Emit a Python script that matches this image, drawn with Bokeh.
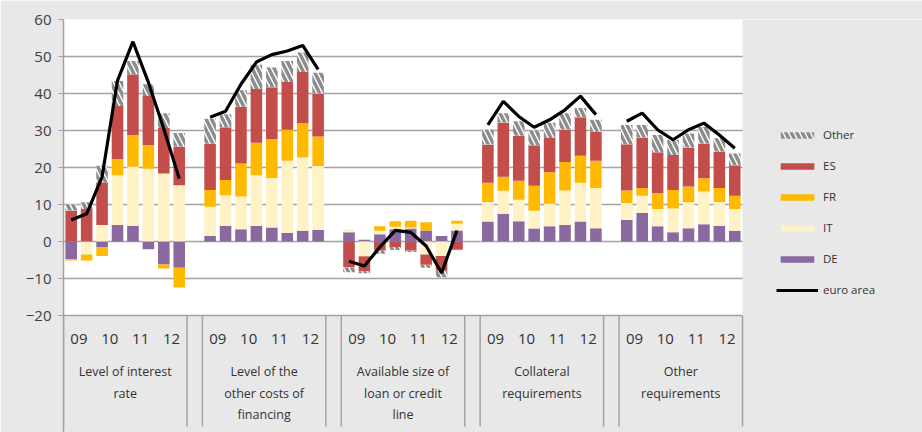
import numpy as np
from bokeh.plotting import figure
from bokeh.models import (Range1d, FixedTicker, Legend, LegendItem, BoxAnnotation,
                          ColumnDataSource)
from bokeh.core.properties import value
from bokeh.embed import file_html
from bokeh.resources import INLINE

# ---------------- data ----------------
group_labels = [
    ["Level of interest", "rate"],
    ["Level of the", "other costs of", "financing"],
    ["Available size of", "loan or credit", "line"],
    ["Collateral", "requirements"],
    ["Other", "requirements"],
]
years = ["09", "10", "11", "12"]
periods_per_year = 2

DE = [-4.8, 0.0, -1.5, 4.5, 4.3, -2.1, -6.2, -7.1,
      1.5, 4.3, 3.3, 4.2, 3.8, 2.3, 2.9, 3.1,
      2.5, 0.5, 2.0, 3.3, 3.5, 3.0, 1.5, 3.0,
      5.4, 7.5, 5.5, 3.5, 4.1, 4.5, 5.4, 3.6,
      5.8, 7.7, 4.1, 2.5, 3.6, 4.7, 4.3, 2.9]
IT = [0.0, -3.5, 4.5, 13.4, 15.9, 19.7, 18.4, 15.2,
      7.9, 8.2, 8.9, 13.7, 13.4, 19.5, 19.8, 17.3,
      0.8, -4.0, 0.9, 0.7, 0.3, -3.5, -3.9, 1.8,
      5.3, 6.2, 5.8, 4.8, 6.1, 9.3, 10.5, 10.9,
      4.6, 4.7, 4.7, 6.4, 7.0, 8.8, 6.4, 5.9]
FR = [-0.3, -1.6, -2.4, 4.4, 8.6, 6.4, -1.1, -5.3,
      4.5, 4.1, 8.9, 8.8, 10.5, 8.4, 9.3, 8.0,
      0.0, 0.0, 1.2, 1.5, 1.8, 2.2, 0.0, 0.8,
      5.2, 3.8, 5.1, 6.8, 8.5, 7.7, 7.3, 7.3,
      3.4, 2.1, 4.3, 5.0, 4.3, 3.6, 3.8, 3.6]
ES = [8.4, 8.8, 11.5, 14.3, 16.4, 13.2, 12.3, 10.5,
      12.5, 14.3, 15.3, 14.5, 14.0, 12.9, 13.8, 11.6,
      -7.0, -4.0, -2.5, -1.5, -2.5, -2.8, -4.0, -2.2,
      10.3, 14.7, 12.2, 10.9, 9.3, 8.8, 10.4, 7.9,
      12.5, 13.6, 11.0, 9.5, 10.5, 9.4, 9.8, 8.2]
Other = [1.7, 1.8, 4.5, 6.8, 3.6, 3.2, 4.0, 3.6,
         6.8, 3.5, 4.5, 6.6, 5.3, 5.7, 5.3, 5.6,
         -1.3, -0.6, -0.8, -0.8, -0.3, -0.8, -1.8, 0.0,
         4.1, 2.5, 3.9, 4.1, 4.1, 4.4, 2.5, 3.2,
         5.2, 3.4, 4.7, 4.1, 3.8, 4.5, 3.6, 3.2]
euro_area = [5.8, 7.5, 17.5, 43.5, 54.0, 43.0, 30.5, 17.0,
             33.6, 35.2, 42.5, 48.5, 50.5, 51.5, 53.0, 46.5,
             -5.3, -6.6, -1.5, 3.0, 2.5, -1.2, -8.5, 3.0,
             31.5, 37.9, 33.8, 30.9, 32.9, 35.6, 39.3, 34.3,
             32.5, 34.7, 30.2, 27.5, 30.2, 32.0, 28.8, 25.2]

series_names = ["DE", "IT", "FR", "ES", "Other"]
series_vals = [DE, IT, FR, ES, Other]
colors = {"DE": "#8A68A0", "IT": "#FFF2C6", "FR": "#FFBA00", "ES": "#C24D4B", "Other": "white"}

# ---------------- layout helpers ----------------
n_groups = len(group_labels)
per_group = len(years) * periods_per_year
slots_per_group = per_group + 1          # one empty slot between groups
n = n_groups * per_group
idx = np.arange(n)
g_idx = idx // per_group
b_idx = idx % per_group
xpos = g_idx * slots_per_group + b_idx + 0.5
x_max = n_groups * slots_per_group - 1

W, H = 922, 432
LEFT, TOP, PLOT_RIGHT = 63, 19, 742
X_END = x_max * (W - LEFT) / (PLOT_RIGHT - LEFT)   # frame runs under the legend area
BG = "#E8E8E8"
GRID = "#A3A3A3"
Y_BOTTOM = -51.6

p = figure(width=W, height=H, output_backend="svg", toolbar_location=None,
           x_range=Range1d(0, X_END), y_range=Range1d(Y_BOTTOM, 60),
           x_axis_location=None, min_border_left=LEFT, min_border_right=0,
           min_border_top=TOP, min_border_bottom=0)
p.background_fill_color = "white"
p.border_fill_color = BG
p.outline_line_color = None

ticks = list(range(-20, 61, 10))
p.yaxis.ticker = FixedTicker(ticks=ticks)
p.ygrid.ticker = FixedTicker(ticks=ticks)
p.ygrid.grid_line_color = GRID
p.ygrid.grid_line_width = 1.5
p.xgrid.visible = False
p.yaxis.axis_line_color = GRID
p.yaxis.axis_line_width = 1.5
p.yaxis.major_tick_line_color = GRID
p.yaxis.major_tick_out = 5
p.yaxis.major_tick_in = 0
p.yaxis.minor_tick_line_color = None
p.yaxis.major_label_text_font = "Open Sans"
p.yaxis.major_label_text_font_size = "15px"
p.yaxis.major_label_text_color = "#404040"
p.yaxis.major_label_standoff = 7

# gray zones: below the value axis (category labels) and right of the plot (legend)
box_bottom = BoxAnnotation(top=-20, fill_color=BG, fill_alpha=1, line_color=None, level="underlay")
box_right = BoxAnnotation(left=x_max, fill_color=BG, fill_alpha=1, line_color=None, level="underlay")
p.add_layout(box_bottom)
p.add_layout(box_right)
others = [r for r in p.center if r is not box_bottom and r is not box_right]
p.center = [box_bottom] + others + [box_right]

# ---------------- stacked bars (positive up, negative down) ----------------
pos_base = np.zeros(n)
neg_base = np.zeros(n)
renderers = {}
for name, vals in zip(series_names, series_vals):
    v = np.array(vals, dtype=float)
    top = np.where(v >= 0, pos_base + v, neg_base)
    bottom = np.where(v >= 0, pos_base, neg_base + v)
    pos_base = pos_base + np.clip(v, 0, None)
    neg_base = neg_base + np.clip(v, None, 0)
    src = ColumnDataSource(dict(x=xpos, top=top, bottom=bottom))
    kw = dict(x="x", top="top", bottom="bottom", width=0.75, source=src,
              fill_color=colors[name], line_color=None)
    if name == "Other":
        kw.update(hatch_pattern="\\", hatch_color="#8C8C8C", hatch_weight=3.5, hatch_scale=11)
    renderers[name] = p.vbar(**kw)

# ---------------- euro area line (one piece per group) ----------------
ea = np.array(euro_area)
xs = [list(xpos[g_idx == g]) for g in range(n_groups)]
ys = [list(ea[g_idx == g]) for g in range(n_groups)]
r_line = p.multi_line(xs=xs, ys=ys, line_color="black", line_width=3.2)

# ---------------- category labels ----------------
sep_x = []
for g in range(n_groups):
    if g > 0:
        sep_x.append(g * slots_per_group - 1)
    sep_x.append(g * slots_per_group)
sep_x.append(x_max)
p.segment(x0=sep_x, x1=sep_x, y0=-20, y1=-50.0, line_color=GRID, line_width=1.5)

yx, yt = [], []
for g in range(n_groups):
    for k, yr in enumerate(years):
        yx.append(g * slots_per_group + k * periods_per_year + periods_per_year / 2)
        yt.append(yr)
p.text(x=yx, y=[-26.2] * len(yx), text=yt, text_font=value("Open Sans"),
       text_font_size="15px", text_color="#333333", text_align="center",
       text_baseline="middle")

gx, gy, gt = [], [], []
for g, lines in enumerate(group_labels):
    for j, line in enumerate(lines):
        gx.append(g * slots_per_group + per_group / 2)
        gy.append(-35.1 - j * 5.85)
        gt.append(line)
p.text(x=gx, y=gy, text=gt, text_font=value("Open Sans"), text_font_size="12.5px",
       text_color="#333333", text_align="center", text_baseline="middle")

# ---------------- legend ----------------
legend = Legend(items=[
    LegendItem(label="Other", renderers=[renderers["Other"]]),
    LegendItem(label="ES", renderers=[renderers["ES"]]),
    LegendItem(label="FR", renderers=[renderers["FR"]]),
    LegendItem(label="IT", renderers=[renderers["IT"]]),
    LegendItem(label="DE", renderers=[renderers["DE"]]),
    LegendItem(label="euro area", renderers=[r_line]),
], location=(776 - LEFT, 135), glyph_width=42, glyph_height=8, label_height=14,
    spacing=16, padding=0, margin=0, border_line_color=None, background_fill_alpha=0,
    label_text_font="Open Sans", label_text_font_size="11.5px",
    label_text_color="#333333", label_standoff=5)
p.add_layout(legend)

open("out.html", "w").write(file_html(p, INLINE))
